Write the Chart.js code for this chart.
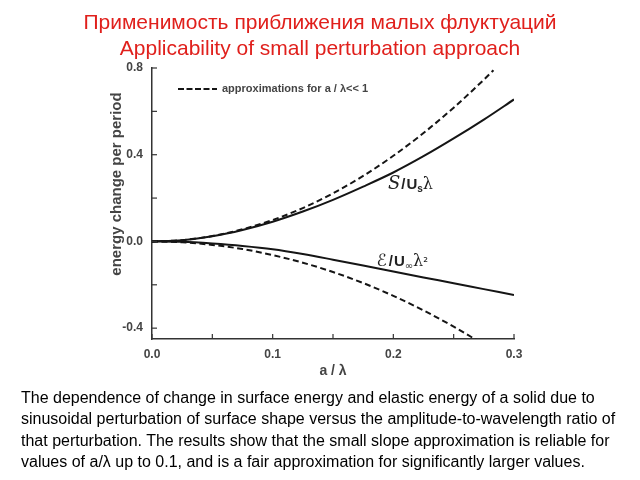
<!DOCTYPE html>
<html>
<head>
<meta charset="utf-8">
<script src="https://cdn.jsdelivr.net/npm/chart.js@4.4.0/dist/chart.umd.min.js"></script>
<style>
html,body{margin:0;padding:0;background:#fff;}
#wrap{position:relative;width:640px;height:480px;overflow:hidden;background:#fff;}
#c{position:absolute;left:0;top:0;}
#title{position:absolute;left:0;top:9px;width:640px;text-align:center;font-family:"Liberation Sans",Arial,sans-serif;font-size:21px;line-height:26px;color:#e0201c;white-space:nowrap;}
#caption{position:absolute;left:21px;top:387px;font-family:"Liberation Sans",Arial,sans-serif;font-size:16px;line-height:21.3px;color:#000;white-space:nowrap;}
</style>
</head>
<body>
<div id="wrap">
<canvas id="c" width="640" height="480"></canvas>
<div id="title"></div>
<div id="caption">The dependence of change in surface energy and elastic energy of a solid due to<br>sinusoidal perturbation of surface shape versus the amplitude-to-wavelength ratio of<br>that perturbation. The results show that the small slope approximation is reliable for<br>values of a/λ up to 0.1, and is a fair approximation for significantly larger values.</div>
</div>
<script>
// ---- text ----
const titleLines = ['Применимость приближения малых флуктуаций', 'Applicability of small perturbation approach'];
const xAxisTitle = 'a / λ';
const yAxisTitle = 'energy change per period';
const legendText = 'approximations for a / λ<< 1';

// ---- ticks ----
const xTickValues = [0, 0.05, 0.1, 0.15, 0.2, 0.25, 0.3];
const xTickLabels = ['0.0', '', '0.1', '', '0.2', '', '0.3'];
const yTickValues = [-0.4, -0.2, 0, 0.2, 0.4, 0.6, 0.8];
const yTickLabels = ['-0.4', '', '0.0', '', '0.4', '', '0.8'];

// ---- data (a/λ) ----
const aGrid = [0, 0.025, 0.05, 0.075, 0.1, 0.125, 0.15, 0.175, 0.2, 0.225, 0.25, 0.275, 0.3];
const surfaceExact = [0, 0.006, 0.024, 0.053, 0.091, 0.138, 0.192, 0.253, 0.318, 0.393, 0.475, 0.562, 0.655];
const elasticExact = [0, -0.002, -0.010, -0.021, -0.036, -0.058, -0.084, -0.111, -0.139, -0.166, -0.193, -0.220, -0.247];

const aSurfaceApprox = [0, 0.025, 0.05, 0.075, 0.1, 0.125, 0.15, 0.175, 0.2, 0.225, 0.25, 0.275, 0.283];
const surfaceApprox = [0, 0.006, 0.025, 0.056, 0.099, 0.154, 0.222, 0.302, 0.395, 0.500, 0.617, 0.746, 0.790];

const aElasticApprox = [0, 0.025, 0.05, 0.075, 0.1, 0.125, 0.15, 0.175, 0.2, 0.225, 0.25, 0.275];
const elasticApprox = [0, -0.004, -0.016, -0.035, -0.063, -0.098, -0.141, -0.192, -0.251, -0.318, -0.393, -0.475];

document.getElementById('title').innerHTML = titleLines.join('<br>');

const pts = (xs, ys) => xs.map((x, i) => ({x: x, y: ys[i]}));

const INK = '#151515';
const AXIS = '#333';
const LABEL = '#444';

const innerTicks = {
  id: 'innerTicks',
  afterDraw(chart) {
    const {ctx, chartArea: ca, scales: {x, y}} = chart;
    ctx.save();
    ctx.strokeStyle = AXIS;
    ctx.lineWidth = 1.2;
    x.ticks.forEach(t => {
      const px = x.getPixelForValue(t.value);
      ctx.beginPath(); ctx.moveTo(px, ca.bottom); ctx.lineTo(px, ca.bottom - 5); ctx.stroke();
    });
    y.ticks.forEach(t => {
      const py = y.getPixelForValue(t.value);
      ctx.beginPath(); ctx.moveTo(ca.left, py); ctx.lineTo(ca.left + 5, py); ctx.stroke();
    });
    ctx.restore();
  }
};

function drawPieces(ctx, x, y, pieces) {
  for (const p of pieces) {
    ctx.font = p.font;
    ctx.fillText(p.t, x, y + (p.dy || 0));
    x += ctx.measureText(p.t).width + (p.gap || 0);
  }
}

const labelsPlugin = {
  id: 'curveLabels',
  afterDraw(chart) {
    const {ctx, chartArea: ca, scales: {x, y}} = chart;
    ctx.save();
    ctx.fillStyle = '#222';
    ctx.textBaseline = 'alphabetic';
    ctx.textAlign = 'left';
    // S / U_s λ
    drawPieces(ctx, x.getPixelForValue(0.1955), y.getPixelForValue(0.24), [
      {t: 'S', font: 'italic 18px "DejaVu Serif"', gap: 1},
      {t: '/', font: 'bold 15px "Liberation Sans"', gap: 1},
      {t: 'U', font: 'bold 15px "Liberation Sans"'},
      {t: 's', font: 'bold 10px "Liberation Sans"', dy: 3},
      {t: 'λ', font: '16px "DejaVu Serif"'}
    ]);
    // E / U_inf λ^2
    drawPieces(ctx, x.getPixelForValue(0.186), y.getPixelForValue(-0.111), [
      {t: 'ℰ', font: '17px "DejaVu Sans"', gap: 2},
      {t: '/', font: 'bold 15px "Liberation Sans"', gap: 1},
      {t: 'U', font: 'bold 15px "Liberation Sans"'},
      {t: '∞', font: '10px "DejaVu Sans"', dy: 3},
      {t: 'λ', font: '16px "DejaVu Serif"'},
      {t: '²', font: '12px "DejaVu Sans"'}
    ]);
    // legend
    const lx = ca.left + 26, ly = ca.top + 21;
    ctx.strokeStyle = INK;
    ctx.lineWidth = 2.2;
    ctx.setLineDash([6, 2.5]);
    ctx.beginPath(); ctx.moveTo(lx, ly); ctx.lineTo(lx + 39, ly); ctx.stroke();
    ctx.setLineDash([]);
    ctx.font = 'bold 11px "Liberation Sans"';
    ctx.fillStyle = LABEL;
    ctx.textBaseline = 'middle';
    ctx.fillText(legendText, lx + 44, ly);
    // y axis title
    ctx.save();
    ctx.translate(117, 184);
    ctx.rotate(-Math.PI / 2);
    ctx.textAlign = 'center';
    ctx.font = 'bold 15px "Liberation Sans"';
    ctx.fillStyle = LABEL;
    ctx.fillText(yAxisTitle, 0, 0);
    ctx.restore();
    ctx.restore();
  }
};

const lineStyle = {borderColor: INK, borderWidth: 2, pointRadius: 0, fill: false, cubicInterpolationMode: 'monotone'};

new Chart(document.getElementById('c'), {
  type: 'line',
  data: {
    datasets: [
      Object.assign({label: 'S/Usλ', data: pts(aGrid, surfaceExact)}, lineStyle),
      Object.assign({label: 'S approx', data: pts(aSurfaceApprox, surfaceApprox), borderDash: [6, 3.5]}, lineStyle),
      Object.assign({label: 'E/U∞λ²', data: pts(aGrid, elasticExact)}, lineStyle),
      Object.assign({label: 'E approx', data: pts(aElasticApprox, elasticApprox), borderDash: [6, 3.5]}, lineStyle)
    ]
  },
  options: {
    responsive: false,
    animation: false,
    layout: {padding: {left: 0, right: 126, top: 68, bottom: 0}},
    plugins: {
      legend: {display: false},
      tooltip: {enabled: false},
      title: {display: false}
    },
    scales: {
      x: {
        type: 'linear', min: 0, max: 0.3,
        afterBuildTicks: s => { s.ticks = xTickValues.map(v => ({value: v})); },
        afterFit: s => { s.height = 141; },
        grid: {display: false, drawTicks: false},
        border: {display: true, color: AXIS, width: 1.5},
        ticks: {
          padding: 8, color: LABEL, autoSkip: false, maxRotation: 0,
          font: {family: '"Liberation Sans"', size: 12, weight: 'bold'},
          callback: (v, i) => xTickLabels[i]
        },
        title: {
          display: true, text: xAxisTitle, color: LABEL,
          font: {family: '"Liberation Sans"', size: 14, weight: 'bold'},
          padding: {top: 0, bottom: 100}
        }
      },
      y: {
        type: 'linear', min: -0.45, max: 0.8,
        afterBuildTicks: s => { s.ticks = yTickValues.map(v => ({value: v})); },
        afterFit: s => { s.width = 152; },
        grid: {display: false, drawTicks: false},
        border: {display: true, color: AXIS, width: 1.5},
        ticks: {
          padding: 9, color: LABEL, autoSkip: false,
          font: {family: '"Liberation Sans"', size: 12, weight: 'bold'},
          callback: (v, i) => yTickLabels[i]
        }
      }
    }
  },
  plugins: [innerTicks, labelsPlugin]
});
</script>
</body>
</html>
